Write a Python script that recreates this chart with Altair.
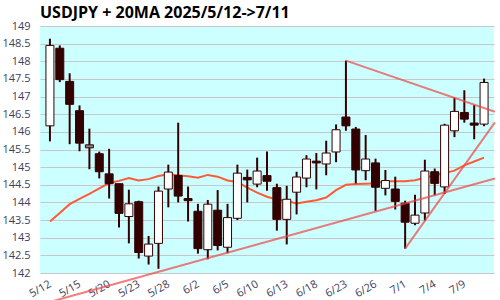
import altair as alt
import pandas as pd

dates = ["5/12","5/13","5/14","5/15","5/16","5/19","5/20","5/21","5/22","5/23",
         "5/26","5/27","5/28","5/29","5/30","6/2","6/3","6/4","6/5","6/6",
         "6/9","6/10","6/11","6/12","6/13","6/16","6/17","6/18","6/19","6/20",
         "6/23","6/24","6/25","6/26","6/27","6/30","7/1","7/2","7/3","7/4",
         "7/7","7/8","7/9","7/10","7/11"]
opens = [146.17,148.37,147.43,146.60,145.59,145.38,144.81,144.53,143.60,144.02,
         142.48,142.84,144.38,144.76,144.11,143.75,142.66,143.78,142.73,143.55,
         144.71,144.52,144.76,144.42,143.52,144.29,144.69,145.17,145.09,145.43,
         146.42,146.08,144.90,145.12,144.40,144.38,143.98,143.41,143.70,144.87,
         144.44,146.03,146.55,146.25,146.22]
highs = [148.64,148.45,147.66,146.75,146.09,145.44,145.52,144.53,144.36,144.05,
         143.05,144.45,145.07,146.26,144.45,143.96,144.07,144.35,143.96,145.07,
         144.93,145.27,145.44,144.53,144.47,144.87,145.34,145.40,145.75,146.21,
         148.02,146.14,145.91,145.24,144.92,144.73,144.05,144.22,145.21,144.96,
         146.23,146.97,147.18,146.76,147.51]
lows = [145.73,147.41,145.65,145.45,144.94,144.68,144.11,143.29,142.84,142.41,
        142.24,142.12,143.86,144.00,143.46,142.55,142.39,142.64,142.56,143.50,
        144.00,144.43,144.33,143.20,142.81,143.66,144.43,144.37,144.77,145.14,
        146.03,144.54,144.63,143.76,144.20,143.80,142.69,143.35,143.48,144.20,
        144.24,145.85,146.26,145.79,146.16]
closes = [148.45,147.48,146.78,145.68,145.59,144.87,144.53,143.69,143.96,142.58,
          142.82,144.32,144.86,144.18,144.05,142.69,143.95,142.78,143.57,144.83,
          144.64,144.89,144.60,143.52,144.09,144.72,145.23,145.12,145.40,146.06,
          146.17,144.92,145.23,144.43,144.62,144.03,143.44,143.64,144.89,144.54,
          146.19,146.58,146.36,146.19,147.40]
ma20 = [143.46,143.70,143.95,144.10,144.24,144.40,144.55,144.61,144.69,144.62,
        144.66,144.75,144.80,144.77,144.74,144.70,144.78,144.73,144.62,144.58,
        144.42,144.28,144.16,144.08,144.04,143.97,144.02,144.06,144.14,144.35,
        144.50,144.52,144.53,144.54,144.60,144.60,144.60,144.63,144.70,144.77,
        144.83,144.90,145.05,145.16,145.27]

# trend lines: start / end (index, price)
trend_id = ["A", "A", "B", "B", "C", "C"]
trend_x = [30, 45.1, 36, 45.1, 0, 45.1]
trend_y = [148.02, 146.57, 142.69, 146.27, 141.18, 144.68]

tick_labels = dates[::3]
y_ticks = [142 + 0.5 * i for i in range(15)]

df = pd.DataFrame({"i": list(range(len(dates))), "date": dates, "open": opens,
                   "high": highs, "low": lows, "close": closes, "ma": ma20})
tdf = pd.DataFrame({"i": trend_x, "id": trend_id, "y": trend_y})

lbl_arr = "[" + ",".join("'" + s + "'" for s in tick_labels) + "]"

xscale = alt.Scale(domain=[-0.5, 44.5], nice=False, zero=False)
xaxis = alt.Axis(values=list(range(0, 45, 3)), labelExpr=lbl_arr + "[datum.value/3]",
                 grid=False, domain=False, ticks=False, labelAngle=330,
                 labelAlign="right", labelBaseline="middle", labelPadding=10,
                 labelOverlap=False, labelBound=False, labelFlush=False,
                 labelFontSize=11, labelColor="#404060", labelFont="Open Sans",
                 title=None)
yscale = alt.Scale(domain=[142, 149], nice=False, zero=False)
yaxis = alt.Axis(values=y_ticks, format=".1~f", grid=True, gridColor="#c8c8c8",
                 domain=False, ticks=False, labelPadding=10, labelFontSize=11,
                 labelOverlap=False, labelBound=False, labelFlush=False,
                 labelColor="#404060", labelFont="Open Sans", title=None)

x = alt.X("i:Q", scale=xscale, axis=xaxis)

def Y(field):
    return alt.Y(field, type="quantitative", scale=yscale, axis=yaxis)

base = alt.Chart(df)

ma_line = base.mark_line(color="#ff5a36", strokeWidth=2).encode(x=x, y=Y("ma"))

wick = base.mark_rule(color="#330000", strokeWidth=2).encode(
    x=x, y=Y("low"), y2="high:Q")

body = base.transform_filter("datum.open != datum.close").transform_calculate(
    kind="datum.close > datum.open ? 'up' : 'down'"
).mark_bar(size=8, stroke="#330000", strokeWidth=1).encode(
    x=x, y=Y("open"), y2="close:Q",
    fill=alt.Fill("kind:N", scale=alt.Scale(domain=["up", "down"], range=["white", "#330000"]),
                  legend=None))

even = base.transform_filter("datum.open == datum.close").mark_bar(
    size=8, stroke="#330000", strokeWidth=1, fill="#888888", yOffset=-1.5, y2Offset=1.5
).encode(x=x, y=Y("open"), y2="close:Q")

trend = alt.Chart(tdf).mark_line(color="#ee4444", strokeWidth=2, opacity=0.7).encode(
    x=x, y=Y("y"), detail="id:N")

chart = alt.layer(ma_line, wick, body, even, trend).properties(
    width=454, height=247,
    autosize=alt.AutoSizeParams(type="none"),
    padding={"left": 40, "top": 26, "right": 6, "bottom": 27},
    title=alt.TitleParams("USDJPY + 20MA 2025/5/12->7/11", anchor="start", frame="group",
                          fontSize=16, fontWeight="bold", font="Open Sans", color="#000000",
                          baseline="alphabetic", offset=10, dy=24)
).configure_view(fill="#ccffff", stroke=None)

chart.save("out.html", embed_options={"renderer": "svg", "actions": False})
